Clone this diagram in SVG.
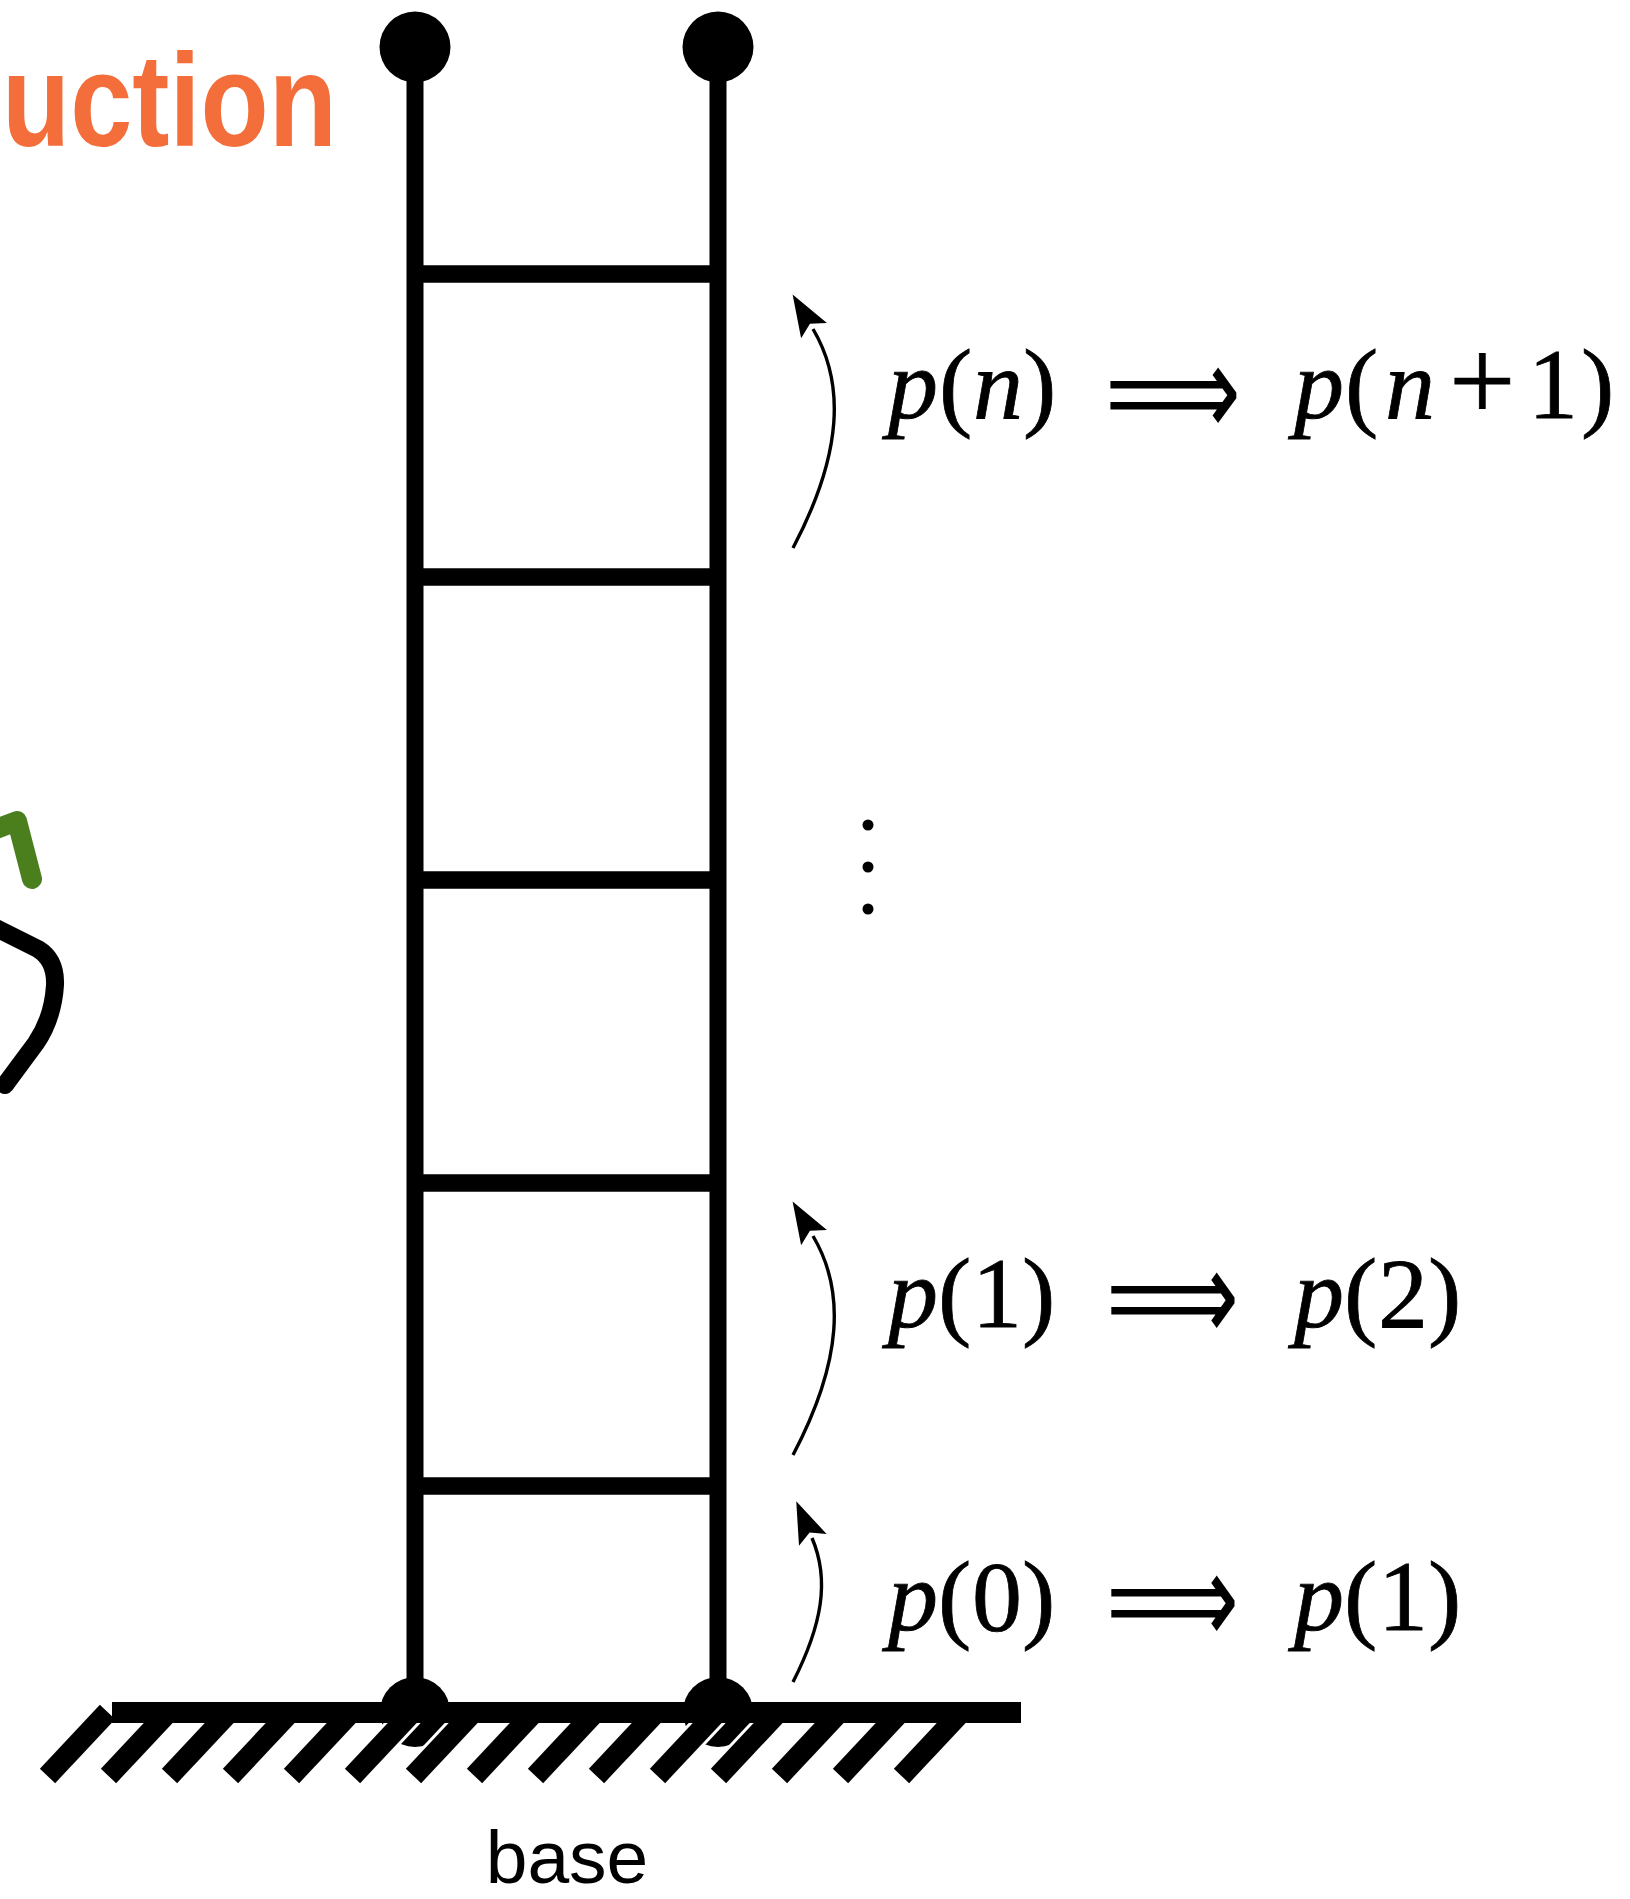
<svg xmlns="http://www.w3.org/2000/svg" width="1630" height="1899" viewBox="0 0 1630 1899">
<style>
.pole{stroke:#000;stroke-width:17;fill:none}
.rung{stroke:#000;stroke-width:17.5;fill:none}
.hatch{stroke:#000;stroke-width:21;stroke-linecap:butt}
.halo{stroke:#fff;stroke-width:27;stroke-linecap:butt}
.arc{stroke:#000;stroke-width:3.4;fill:none}
.math{font-family:"Liberation Serif","Times New Roman",serif;font-size:100px;fill:#000;stroke:#000;stroke-width:0.8}
.it{font-style:italic}
.plus{font-size:118px}
.impl{font-family:"DejaVu Sans",sans-serif;font-size:130px;fill:#000}
.base{font-family:"Liberation Sans",Arial,sans-serif;font-size:75px;fill:#000}
</style>
<defs>
<marker id="ah" markerUnits="userSpaceOnUse" viewBox="-4 -16 46 32" markerWidth="46" markerHeight="32" refX="0" refY="0" orient="auto">
<path d="M40 0 L-2 -15 L6 0 L-2 15 Z" fill="#000"/>
</marker>
</defs>
<rect width="1630" height="1899" fill="#fff"/>

<g id="scribbles">
<text x="2" y="146" textLength="335" lengthAdjust="spacingAndGlyphs" font-family="Liberation Sans, Arial, sans-serif" font-weight="bold" font-size="132" fill="#F36E3A">uction</text>
<path d="M-4 829 L17 821 L32 879" stroke="#4B7F1E" stroke-width="20" stroke-linecap="round" stroke-linejoin="round" fill="none"/>
<path d="M-4 928 L38 949 Q56 960 55 985 Q53 1018 36 1043 L5 1085" stroke="#000" stroke-width="18" stroke-linecap="round" stroke-linejoin="round" fill="none"/>
</g>

<g id="ladder">
<line class="pole" x1="415" y1="47" x2="415" y2="1712"/>
<line class="pole" x1="718" y1="47" x2="718" y2="1712"/>
<line class="rung" x1="415" y1="274" x2="718" y2="274"/>
<line class="rung" x1="415" y1="577" x2="718" y2="577"/>
<line class="rung" x1="415" y1="880" x2="718" y2="880"/>
<line class="rung" x1="415" y1="1183" x2="718" y2="1183"/>
<line class="rung" x1="415" y1="1486" x2="718" y2="1486"/>
<circle cx="415" cy="47" r="35.5" fill="#000"/>
<circle cx="718" cy="47" r="35.5" fill="#000"/>
<circle cx="415" cy="1712" r="35" fill="#000"/>
<circle cx="718" cy="1712" r="35" fill="#000"/>
</g>

<g id="ground">
<g class="halo">
<line x1="352.5" y1="1776" x2="412.5" y2="1712"/>
<line x1="413.5" y1="1776" x2="473.5" y2="1712"/>
<line x1="657.5" y1="1776" x2="717.5" y2="1712"/>
<line x1="718.5" y1="1776" x2="778.5" y2="1712"/>
</g>
<g class="hatch">
<line x1="47.5" y1="1776" x2="107.5" y2="1712"/>
<line x1="108.5" y1="1776" x2="168.5" y2="1712"/>
<line x1="169.5" y1="1776" x2="229.5" y2="1712"/>
<line x1="230.5" y1="1776" x2="290.5" y2="1712"/>
<line x1="291.5" y1="1776" x2="351.5" y2="1712"/>
<line x1="352.5" y1="1776" x2="412.5" y2="1712"/>
<line x1="413.5" y1="1776" x2="473.5" y2="1712"/>
<line x1="474.5" y1="1776" x2="534.5" y2="1712"/>
<line x1="535.5" y1="1776" x2="595.5" y2="1712"/>
<line x1="596.5" y1="1776" x2="656.5" y2="1712"/>
<line x1="657.5" y1="1776" x2="717.5" y2="1712"/>
<line x1="718.5" y1="1776" x2="778.5" y2="1712"/>
<line x1="779.5" y1="1776" x2="839.5" y2="1712"/>
<line x1="840.5" y1="1776" x2="900.5" y2="1712"/>
<line x1="901.5" y1="1776" x2="961.5" y2="1712"/>
</g>
<line x1="112" y1="1712.5" x2="1021" y2="1712.5" stroke="#000" stroke-width="21"/>
<text class="base" x="567" y="1883" text-anchor="middle">base</text>
</g>

<g id="connectors">
<path class="arc" d="M793 548 C843 453 845 383 813 329" marker-end="url(#ah)"/>
<path class="arc" d="M793 1455 C843 1360 845 1290 813 1236" marker-end="url(#ah)"/>
<path class="arc" d="M793 1682 C822 1625 830 1580 812 1538" marker-end="url(#ah)"/>
</g>

<g id="step-n">
<text class="math" y="418"><tspan class="it" x="888">p</tspan><tspan x="939">(</tspan><tspan class="it" x="973">n</tspan><tspan x="1023">)</tspan></text>
<text class="impl" x="1105" y="436" textLength="136" lengthAdjust="spacingAndGlyphs">⟹</text>
<text class="math" y="418"><tspan class="it" x="1294">p</tspan><tspan x="1345">(</tspan><tspan class="it" x="1385">n</tspan><tspan class="plus" x="1449" dy="3">+</tspan><tspan x="1528" dy="-3">1</tspan><tspan x="1581">)</tspan></text>
</g>

<g id="dots">
<circle cx="868" cy="825" r="5.5" fill="#000"/>
<circle cx="868" cy="867" r="5.5" fill="#000"/>
<circle cx="868" cy="909" r="5.5" fill="#000"/>
</g>

<g id="step-1">
<text class="math" y="1327"><tspan class="it" x="888">p</tspan><tspan x="938">(</tspan><tspan x="972">1</tspan><tspan x="1022">)</tspan></text>
<text class="impl" x="1106" y="1341" textLength="133" lengthAdjust="spacingAndGlyphs">⟹</text>
<text class="math" y="1327"><tspan class="it" x="1294">p</tspan><tspan x="1344">(</tspan><tspan x="1378">2</tspan><tspan x="1428">)</tspan></text>
</g>

<g id="step-0">
<text class="math" y="1630"><tspan class="it" x="888">p</tspan><tspan x="938">(</tspan><tspan x="972">0</tspan><tspan x="1022">)</tspan></text>
<text class="impl" x="1106" y="1644" textLength="133" lengthAdjust="spacingAndGlyphs">⟹</text>
<text class="math" y="1630"><tspan class="it" x="1294">p</tspan><tspan x="1344">(</tspan><tspan x="1378">1</tspan><tspan x="1428">)</tspan></text>
</g>
</svg>
